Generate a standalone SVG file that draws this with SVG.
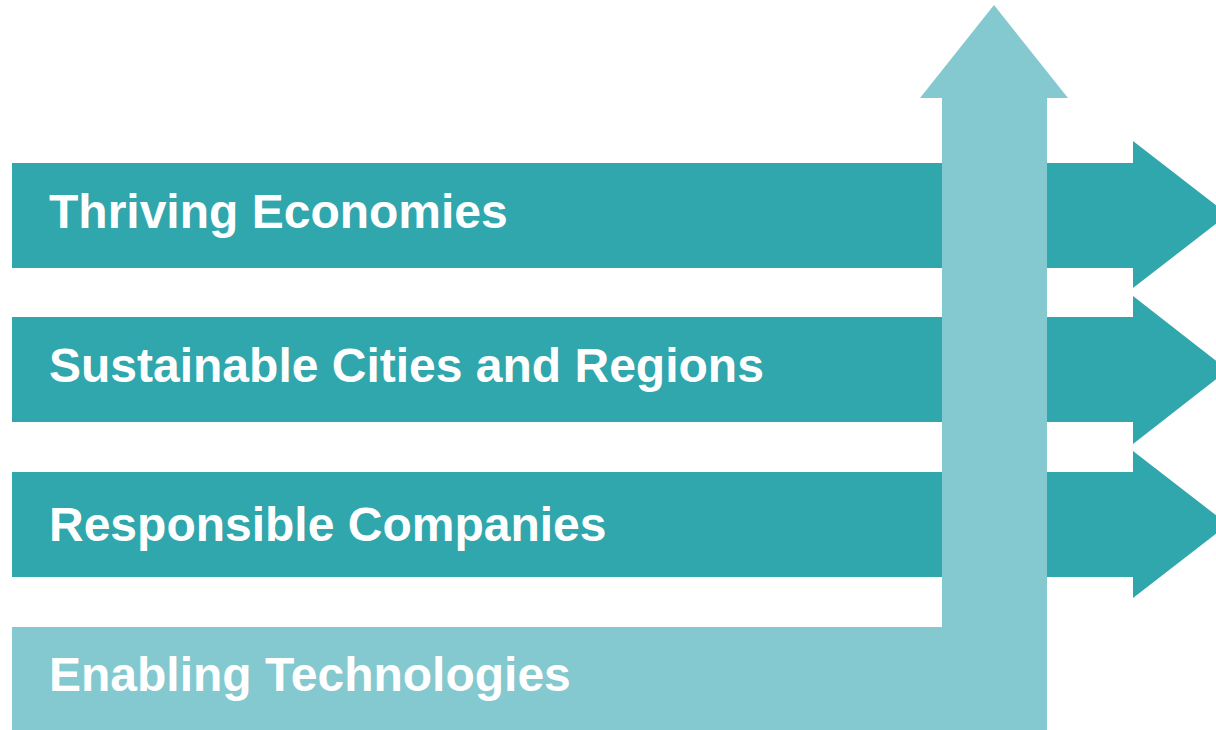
<svg xmlns="http://www.w3.org/2000/svg" width="1216" height="730" viewBox="0 0 1216 730">
<style>
.dark{fill:#30A6AD}
.light{fill:#84C9CF}
.lbl{font-family:"Liberation Sans",Arial,sans-serif;font-weight:bold;font-size:48px;fill:#FFFFFF}
</style>
<rect width="1216" height="730" fill="#FFFFFF"/>
<g id="thriving">
<polygon class="dark" points="12,163 1133,163 1133,141 1228,214.5 1133,288 1133,268 12,268"/>
<text class="lbl" x="49" y="228">Thriving Economies</text>
</g>
<g id="sustainable">
<polygon class="dark" points="12,317 1133,317 1133,296 1228,370 1133,444 1133,422 12,422"/>
<text class="lbl" x="49" y="382">Sustainable Cities and Regions</text>
</g>
<g id="responsible">
<polygon class="dark" points="12,472 1133,472 1133,451 1228,524.5 1133,598 1133,577 12,577"/>
<text class="lbl" x="49" y="541">Responsible Companies</text>
</g>
<g id="enabling">
<polygon class="light" points="12,627 942,627 942,98 920,98 994,5 1068,98 1047,98 1047,730 12,730"/>
<text class="lbl" x="49" y="691">Enabling Technologies</text>
</g>
<g id="connectors"></g>
</svg>
